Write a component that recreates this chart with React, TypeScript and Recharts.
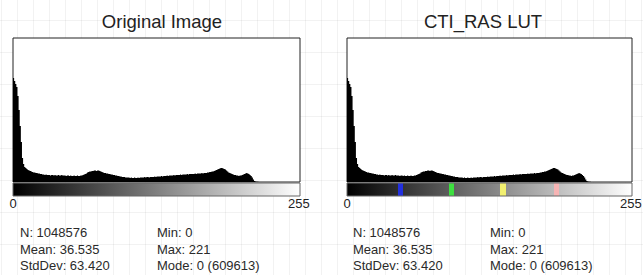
import { ComposedChart, Area, XAxis, YAxis, ReferenceArea } from 'recharts'

// histogram heights per bin (0..255), in display units
const histogram = [
  104, 101, 98, 95, 86, 72, 56, 40, 24, 18, 15, 14, 13, 12, 11.5, 11,
  10.5, 10, 9.5, 9.5, 9, 9, 8.5, 8.5, 8, 8, 7.5, 7.5, 7, 7.5, 7, 7,
  7, 6.5, 7, 7, 6.5, 7, 6.5, 6.5, 7, 6.5, 6.5, 7, 6.5, 6.5, 6.5, 6,
  6.5, 6.5, 6, 6.5, 6, 6, 6.5, 6, 6, 6.5, 6, 6, 6.5, 6.5, 7, 7.5,
  8, 8.5, 9.5, 10, 10.5, 10.5, 11, 11, 11.5, 11.5, 11, 11.5, 11.5, 11, 10.5, 10,
  9.5, 9, 9, 8.5, 8.5, 8, 8, 7.5, 7.5, 7, 7, 6.5, 6.5, 6, 6, 5.5,
  5.5, 5, 5, 5, 4.5, 4.5, 4.5, 4.5, 4, 4.5, 4, 4, 4.5, 4, 4, 4.5,
  4, 4.5, 4.5, 4.5, 4.5, 5, 4.5, 5, 5, 4.5, 5, 5, 5, 5, 5.5, 5,
  5.5, 5.5, 5.5, 5.5, 6, 5.5, 6, 6, 6, 6.5, 6, 6.5, 6.5, 6.5, 6.5, 7,
  6.5, 7, 7, 7, 7, 7.5, 7, 7.5, 7.5, 7.5, 7.5, 8, 7.5, 8, 8, 8,
  8, 8, 8.5, 8, 8.5, 8.5, 8.5, 8.5, 9, 8.5, 9, 9, 9, 9.5, 9.5, 10,
  10, 10.5, 10.5, 11, 11.5, 12, 12.5, 13, 13.5, 14, 14, 13.5, 13, 12.5, 11.5, 10.5,
  9.5, 9, 8.5, 8, 7.5, 7, 7, 6.5, 6.5, 6, 6.5, 6.5, 7, 7.5, 8, 8.5,
  9, 8.5, 8, 7, 6, 4.5, 2.5, 1, 0.4, 0.2, 0.2, 0.1, 0.1, 0.1, 0, 0,
  0, 0, 0, 0, 0, 0, 0, 0, 0, 0, 0, 0, 0, 0, 0, 0,
  0, 0, 0, 0, 0, 0, 0, 0, 0, 0, 0, 0, 0, 0, 0, 0,
]

const axisTicks = [0, 255]
const titles = ['Original Image', 'CTI_RAS LUT']

// CTI_RAS colour marks over the grey ramp
const lutMarks = [48, 94, 140, 188]
const lutColors = ['#2230e0', '#3ee040', '#f2f070', '#f6b4b4']

const statsLeft = ['N: 1048576', 'Mean: 36.535', 'StdDev: 63.420']
const statsRight = ['Min: 0', 'Max: 221', 'Mode: 0 (609613)']

const data = histogram.map((count, bin) => ({ bin, count }))

const FONT = '"Liberation Sans", Arial, sans-serif'

const grey = (v: number) => {
  const c = Math.round(v).toString(16).padStart(2, '0')
  return `#${c}${c}${c}`
}

function rampStops(withLut: boolean) {
  const stops: { offset: number; color: string }[] = [{ offset: 0, color: '#000' }]
  if (withLut) {
    lutMarks.forEach((m, i) => {
      const a = (m - 2.5) / 256
      const b = (m + 2.5) / 256
      stops.push({ offset: a, color: grey(m - 2.5) })
      stops.push({ offset: a, color: lutColors[i] })
      stops.push({ offset: b, color: lutColors[i] })
      stops.push({ offset: b, color: grey(m + 2.5) })
    })
  }
  stops.push({ offset: 1, color: '#fff' })
  return stops
}

interface PanelProps {
  id: string
  title: string
  left: number
  width: number
  marginLeft: number
  marginRight: number
  titleX: number
  statX: [number, number]
  withLut?: boolean
}

function HistPanel({ id, title, left, width, marginLeft, marginRight, titleX, statX, withLut = false }: PanelProps) {
  return (
    <>
      <div
        style={{
          position: 'absolute',
          left: titleX - 100,
          top: 12,
          width: 200,
          textAlign: 'center',
          fontFamily: FONT,
          fontSize: 18.5,
          lineHeight: '20px',
          color: '#222',
        }}
      >
        {title}
      </div>
      <div style={{ position: 'absolute', left, top: 0 }}>
        <ComposedChart
          width={width}
          height={215}
          data={data}
          margin={{ top: 38, left: marginLeft, right: marginRight, bottom: 0 }}
        >
          <defs>
            <linearGradient id={`ramp-${id}`} x1="0" y1="0" x2="1" y2="0">
              {rampStops(withLut).map((s, i) => (
                <stop key={i} offset={s.offset} stopColor={s.color} />
              ))}
            </linearGradient>
          </defs>
          <XAxis
            dataKey="bin"
            type="number"
            domain={[0, 256]}
            ticks={axisTicks}
            interval={0}
            allowDataOverflow
            axisLine={false}
            tickLine={false}
            tickSize={0}
            tickMargin={3}
            height={19}
            tick={{ fontSize: 13, fill: '#222', fontFamily: FONT }}
          />
          <YAxis hide type="number" domain={[-14, 144]} allowDataOverflow />
          <ReferenceArea x1={0} x2={256} y1={0} y2={144} fill="#fff" fillOpacity={1} stroke="#222" />
          <ReferenceArea
            x1={0}
            x2={256}
            y1={-14}
            y2={-1}
            fill={`url(#ramp-${id})`}
            fillOpacity={1}
            stroke="#666"
          />
          <Area
            dataKey="count"
            type="stepAfter"
            baseValue={0}
            fill="#000"
            fillOpacity={1}
            stroke="none"
            dot={false}
            activeDot={false}
            isAnimationActive={false}
          />
        </ComposedChart>
      </div>
      {[statsLeft, statsRight].map((lines, col) => (
        <div
          key={col}
          style={{
            position: 'absolute',
            left: statX[col],
            top: 225,
            fontFamily: FONT,
            fontSize: 13,
            lineHeight: '16.7px',
            color: '#2a2a2a',
            whiteSpace: 'nowrap',
          }}
        >
          {lines.map((t) => (
            <div key={t}>{t}</div>
          ))}
        </div>
      ))}
    </>
  )
}

export default function App() {
  return (
    <div
      style={{
        position: 'absolute',
        left: 0,
        top: 0,
        width: 643,
        height: 275,
        overflow: 'hidden',
        backgroundColor: '#fff',
        backgroundImage:
          'linear-gradient(to right, rgba(0,0,0,0.05) 1px, transparent 1px), linear-gradient(to bottom, rgba(0,0,0,0.05) 1px, transparent 1px)',
        backgroundSize: '16px 32px',
        backgroundPosition: '1px 20px',
      }}
    >
      <HistPanel
        id="orig"
        title={titles[0]}
        left={0}
        width={320}
        marginLeft={13}
        marginRight={20}
        titleX={162}
        statX={[20, 157]}
      />
      <HistPanel
        id="lut"
        title={titles[1]}
        left={320}
        width={323}
        marginLeft={27}
        marginRight={11}
        titleX={483}
        statX={[353, 490]}
        withLut
      />
    </div>
  )
}
